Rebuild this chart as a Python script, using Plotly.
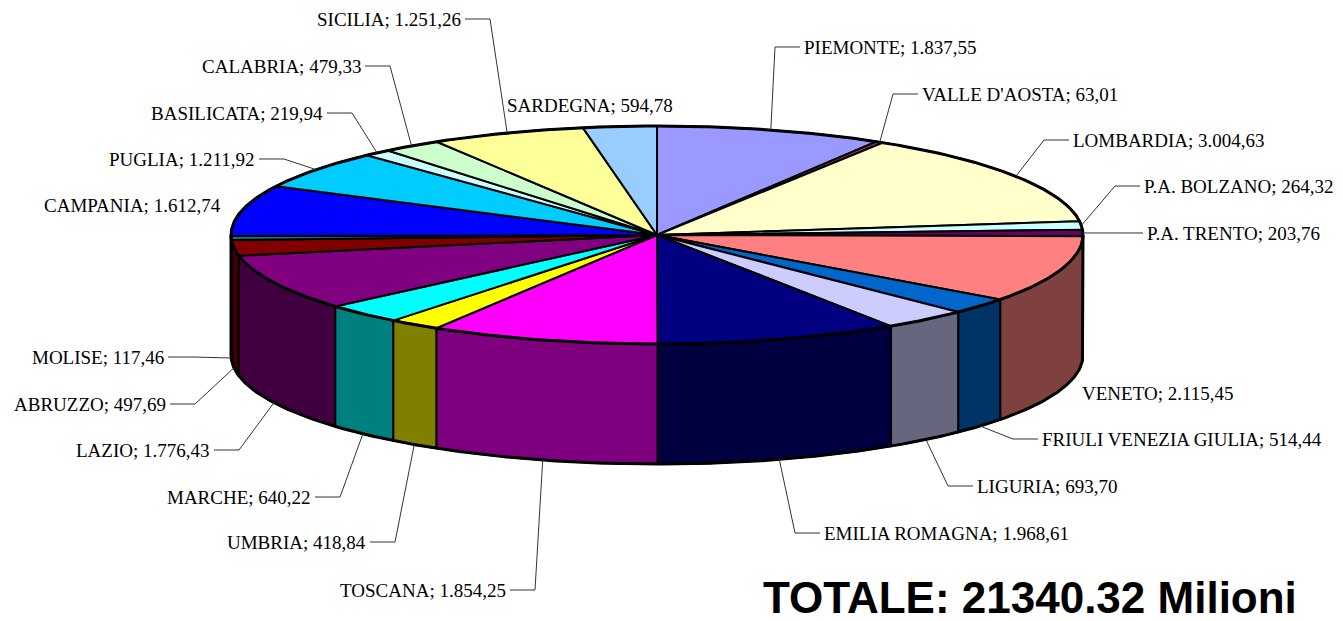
import numpy as np
import plotly.graph_objects as go

# ---------------- data ----------------
regions = ["PIEMONTE", "VALLE D'AOSTA", "LOMBARDIA", "P.A. BOLZANO", "P.A. TRENTO",
           "VENETO", "FRIULI VENEZIA GIULIA", "LIGURIA", "EMILIA ROMAGNA", "TOSCANA",
           "UMBRIA", "MARCHE", "LAZIO", "ABRUZZO", "MOLISE", "CAMPANIA", "PUGLIA",
           "BASILICATA", "CALABRIA", "SICILIA", "SARDEGNA"]
values = [1837.55, 63.01, 3004.63, 264.32, 203.76, 2115.45, 514.44, 693.70, 1968.61,
          1854.25, 418.84, 640.22, 1776.43, 497.69, 117.46, 1612.74, 1211.92, 219.94,
          479.33, 1251.26, 594.78]
colors = ["#9999FF", "#993366", "#FFFFCC", "#CCFFFF", "#660066", "#FF8080", "#0066CC",
          "#CCCCFF", "#000080", "#FF00FF", "#FFFF00", "#00FFFF", "#800080", "#800000",
          "#008080", "#0000FF", "#00CCFF", "#CCFFFF", "#CCFFCC", "#FFFF99", "#99CCFF"]
total_text = "TOTALE: 21340.32 Milioni"

# ---------------- layout of the drawing (pixels) ----------------
W, H = 1343, 621
CX, CY, RX, RY, DEPTH = 657, 235, 426, 109, 120

# label placement: (x, y, text anchor, has leader line)
label_layout = {
    "PIEMONTE": (802, 47, "left", True),
    "VALLE D'AOSTA": (920, 94, "left", True),
    "LOMBARDIA": (1071, 140, "left", True),
    "P.A. BOLZANO": (1142, 186, "left", True),
    "P.A. TRENTO": (1145, 233, "left", True),
    "VENETO": (1080, 393, "left", False),
    "FRIULI VENEZIA GIULIA": (1040, 439, "left", True),
    "LIGURIA": (975, 486, "left", True),
    "EMILIA ROMAGNA": (822, 533, "left", True),
    "TOSCANA": (508, 590, "right", True),
    "UMBRIA": (368, 542, "right", True),
    "MARCHE": (313, 497, "right", True),
    "LAZIO": (212, 450, "right", True),
    "ABRUZZO": (168, 404, "right", True),
    "MOLISE": (166, 357, "right", True),
    "CAMPANIA": (223, 205, "right", False),
    "PUGLIA": (257, 159, "right", True),
    "BASILICATA": (325, 113, "right", True),
    "CALABRIA": (363, 66, "right", True),
    "SICILIA": (463, 19, "right", True),
    "SARDEGNA": (505, 105, "left", False),
}


def it_fmt(v):
    s = f"{v:,.2f}"
    return s.replace(",", "X").replace(".", ",").replace("X", ".")


def pts(a0, a1, dy=0.0):
    n = max(2, int(abs(a1 - a0) * 2) + 2)
    t = np.radians(np.linspace(a0, a1, n))
    return CX + RX * np.sin(t), CY - RY * np.cos(t) + dy


def darker(hexc):
    h = hexc.lstrip("#")
    r, g, b = (int(h[i:i + 2], 16) for i in (0, 2, 4))
    return "#%02x%02x%02x" % (r // 2, g // 2, b // 2)


total = float(sum(values))
cum = np.concatenate([[0.0], np.cumsum(values)]) / total * 360.0

fig = go.Figure()

# side walls (front half: 90..270 degrees)
for i, c in enumerate(colors):
    a0, a1 = max(cum[i], 90.0), min(cum[i + 1], 270.0)
    if a1 <= a0:
        continue
    xt, yt = pts(a0, a1)
    xb, yb = pts(a0, a1, DEPTH)
    xs = np.concatenate([xt, xb[::-1], xt[:1]])
    ys = np.concatenate([yt, yb[::-1], yt[:1]])
    fig.add_trace(go.Scatter(x=xs, y=ys, mode="lines", fill="toself",
                             fillcolor=darker(c), line=dict(color="black", width=2),
                             hoverinfo="skip"))

# top faces
for i, c in enumerate(colors):
    xa, ya = pts(cum[i], cum[i + 1])
    xs = np.concatenate([[CX], xa, [CX]])
    ys = np.concatenate([[CY], ya, [CY]])
    fig.add_trace(go.Scatter(x=xs, y=ys, mode="lines", fill="toself",
                             fillcolor=c, line=dict(color="black", width=2),
                             hoverinfo="skip"))

# outer outline
xe, ye = pts(0, 360)
fig.add_trace(go.Scatter(x=xe, y=ye, mode="lines", line=dict(color="black", width=3),
                         hoverinfo="skip"))
xb, yb = pts(90, 270, DEPTH)
xr, yr = pts(90, 90)
xl, yl = pts(270, 270)
fig.add_trace(go.Scatter(x=np.concatenate([[xr[0]], xb, [xl[0]]]),
                         y=np.concatenate([[yr[0]], yb, [yl[0]]]),
                         mode="lines", line=dict(color="black", width=3),
                         hoverinfo="skip"))

# labels and leader lines
lx, ly = [], []
annotations = []
for i, name in enumerate(regions):
    x, y, anc, lead = label_layout[name]
    annotations.append(dict(x=x, y=y, xref="x", yref="y", text=f"{name}; {it_fmt(values[i])}",
                            showarrow=False, xanchor=anc, yanchor="middle",
                            font=dict(family="Liberation Serif, Times New Roman, serif",
                                      size=19, color="black")))
    if lead:
        mid = (cum[i] + cum[i + 1]) / 2
        dy = DEPTH if 90 < mid < 270 else 0
        px, py = pts(mid, mid, dy)
        sgn = -1 if anc == "left" else 1
        x0 = x + sgn * 2
        xe_ = x + sgn * 27
        lx += [x0, xe_, px[0], None]
        ly += [y, y, py[0], None]

fig.add_trace(go.Scatter(x=lx, y=ly, mode="lines", line=dict(color="#333333", width=1),
                         hoverinfo="skip"))

annotations.append(dict(x=761, y=597, xref="x", yref="y", text=f"<b>{total_text}</b>",
                        showarrow=False, xanchor="left", yanchor="middle",
                        font=dict(family="Liberation Sans, Arial, sans-serif",
                                  size=44, color="black")))

fig.update_layout(
    width=W, height=H, autosize=False,
    margin=dict(l=0, r=0, t=0, b=0),
    paper_bgcolor="white", plot_bgcolor="white",
    showlegend=False,
    xaxis=dict(range=[0, W], visible=False, fixedrange=True),
    yaxis=dict(range=[H, 0], visible=False, fixedrange=True),
    annotations=annotations,
)

fig.write_html("out.html", config={"displayModeBar": False},
               post_script="document.body.style.margin='0';")
